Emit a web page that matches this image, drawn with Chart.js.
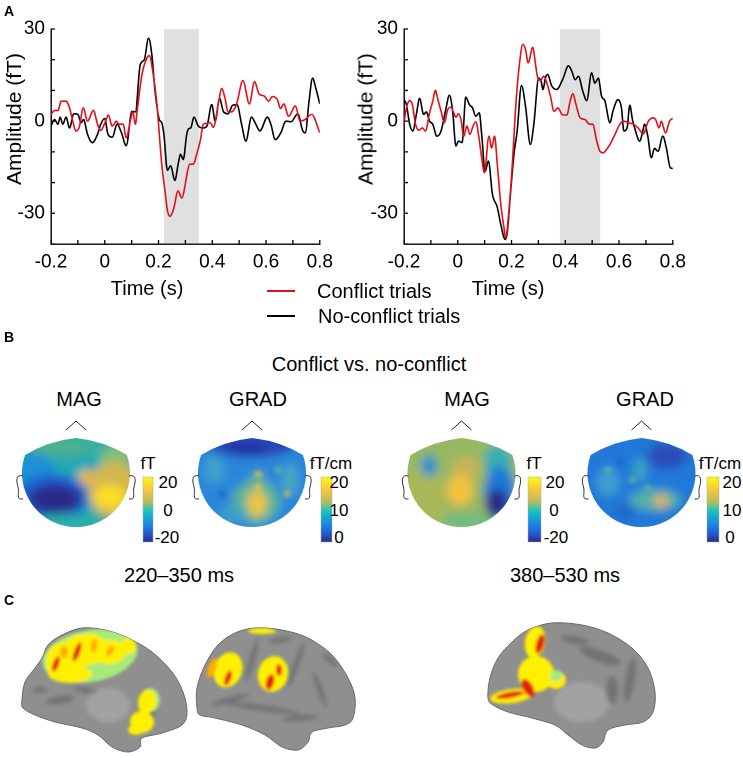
<!DOCTYPE html>
<html><head><meta charset="utf-8">
<script src="https://cdn.jsdelivr.net/npm/chart.js@4.4.1/dist/chart.umd.min.js"></script>
<style>
html,body{margin:0;padding:0;background:#fff;width:743px;height:758px;overflow:hidden;font-family:'Liberation Sans',Arial,Helvetica,sans-serif;}
.t{position:absolute;white-space:nowrap;color:#000;line-height:1;}
canvas{position:absolute;top:0;}
</style></head><body>
<svg id="deco" width="743" height="758" style="position:absolute;left:0;top:0"></svg>
<canvas id="c1" style="left:0px;width:340px;height:280px" width="340" height="280"></canvas>
<canvas id="c2" style="left:353px;width:340px;height:280px" width="340" height="280"></canvas>
<div id="texts"></div>
<script>
// ---------------- DATA ----------------
const timeRange = [-0.2, 0.8];
const ampRange = [-40, 30];
const xTickStep = 0.1;
const yTickStep = 10;
const xTickLabels = [-0.2, 0, 0.2, 0.4, 0.6, 0.8];
const yTickLabels = [30, 0, -30];
const leftWindow = [0.22, 0.35];
const rightWindow = [0.38, 0.53];
const seriesNames = ['Conflict trials', 'No-conflict trials'];

const leftConflictT = [-0.2,-0.186,-0.174,-0.162,-0.144,-0.131,-0.119,-0.107,-0.095,-0.08,-0.064,-0.042,-0.027,-0.015,0.003,0.013,0.028,0.043,0.052,0.068,0.08,0.095,0.104,0.114,0.12,0.138,0.157,0.166,0.179,0.193,0.212,0.224,0.233,0.242,0.255,0.273,0.286,0.317,0.329,0.342,0.355,0.367,0.373,0.392,0.404,0.422,0.435,0.447,0.459,0.471,0.49,0.514,0.538,0.557,0.575,0.593,0.609,0.624,0.642,0.654,0.666,0.684,0.709,0.727,0.745,0.77,0.8];
const leftConflictV = [2.2,3.5,3.5,6.5,6.5,4.3,0,-3.2,-2,4.3,0,3.5,-1,-3,0,2,-1.6,0,-1,-1,-5.4,0,3,-1,3,15,20.6,21.3,16,6.5,-14,-22.7,-29,-31,-29,-22.7,-25,-14,-14,-10.8,-6.5,-1,-0.8,-0.5,-2,5.4,10.6,7.6,3,3,5.4,13.2,5.6,12.8,8.7,8.2,6.5,8,7,4.1,5.6,1.6,4.9,0,0.5,2.2,-3.8];

const leftNoConflictT = [-0.2,-0.187,-0.174,-0.166,-0.156,-0.144,-0.131,-0.115,-0.1,-0.088,-0.079,-0.064,-0.046,-0.027,-0.015,0,0.012,0.028,0.046,0.061,0.08,0.101,0.114,0.132,0.147,0.163,0.175,0.187,0.203,0.212,0.22,0.233,0.245,0.261,0.273,0.282,0.292,0.305,0.312,0.32,0.332,0.348,0.367,0.38,0.398,0.411,0.427,0.442,0.459,0.475,0.492,0.509,0.525,0.546,0.562,0.577,0.605,0.618,0.634,0.655,0.674,0.693,0.718,0.736,0.746,0.76,0.773,0.785,0.8];
const leftNoConflictV = [-1.6,0.5,-1,1.3,-1,1.3,-2.2,2.4,2.2,-0.5,0.5,-4.3,-7,-4.3,-1,0.9,-4.3,-5.2,-1,-3.5,-8,3.2,3,18.4,20,27,21.7,9.8,0.5,-0.5,-4.3,-16,-14.6,-19.3,-14,-10.8,-12.5,-4.3,-2.5,-2.2,1.3,-1.6,-2.2,-1.6,5.4,0,7.4,3,2.4,5.1,5.4,-1,-6.5,1.3,-1,-3.2,1.3,-1,-6,-3.8,0,-0.2,2.4,-3,-3.8,6.5,14,10.8,5.6];

const rightConflictT = [-0.2,-0.191,-0.179,-0.169,-0.157,-0.145,-0.132,-0.12,-0.105,-0.093,-0.083,-0.074,-0.062,-0.05,-0.037,-0.025,-0.015,-0.007,0.003,0.012,0.022,0.034,0.045,0.057,0.067,0.077,0.089,0.099,0.116,0.126,0.137,0.147,0.16,0.172,0.178,0.188,0.203,0.217,0.23,0.242,0.252,0.262,0.279,0.29,0.298,0.308,0.32,0.333,0.345,0.358,0.373,0.39,0.406,0.418,0.428,0.44,0.455,0.474,0.49,0.502,0.517,0.529,0.541,0.554,0.568,0.585,0.603,0.618,0.634,0.653,0.671,0.69,0.709,0.727,0.736,0.749,0.757,0.773,0.788,0.8];
const rightConflictV = [-0.5,4.3,6.7,5.4,-1,-3,-2.2,-3.2,2.7,6.5,10,7,3.2,-0.5,3.8,4.5,2.7,1.3,2.4,0.5,-4.9,-1.6,-4.3,-1.6,-0.2,-4.3,-11.9,-16.8,-4.9,-8.7,-4.9,-14,-27,-34.7,-37.9,-31.4,-14,6.5,19,25,23.3,19,24,18,14,13.3,14.6,11.9,8.1,3.2,4.3,2,2,6.5,8.9,5.4,1.1,0.5,-1,-1,-6.5,-9.8,-10.3,-9.2,-7.3,-4.3,-1,0,-0.5,-1,-2.2,-4.1,0,1.1,0.5,-2.2,0,-3.8,0,0.9];

const rightNoConflictT = [-0.2,-0.191,-0.179,-0.167,-0.154,-0.142,-0.127,-0.117,-0.105,-0.093,-0.078,-0.062,-0.046,-0.031,-0.019,-0.007,0.003,0.016,0.03,0.043,0.055,0.067,0.08,0.089,0.102,0.114,0.129,0.147,0.16,0.176,0.184,0.197,0.209,0.221,0.237,0.252,0.27,0.283,0.301,0.31,0.317,0.326,0.334,0.35,0.368,0.39,0.412,0.424,0.437,0.449,0.465,0.48,0.498,0.51,0.523,0.535,0.547,0.566,0.578,0.596,0.609,0.618,0.63,0.64,0.65,0.658,0.677,0.687,0.695,0.707,0.72,0.732,0.745,0.763,0.776,0.791,0.8];
const rightNoConflictV = [7,5.4,-1,-3.2,2.2,7.4,2.2,3,0,-1,-4.9,-3.2,3.2,8.4,3.2,-8.1,-6.5,-7,7.8,5.4,4.3,1.6,2.7,-4.3,-16.3,-13,-23.8,-28,-33.6,-38.5,-36.3,-22.7,-10.8,-3.2,11.6,4.9,-7.6,-1,14,13,10.3,14,15.2,11.4,10.3,13.5,18,16.3,13.5,14.6,9.8,6.7,15.7,12.4,14,8.1,6.7,-0.5,3.5,7,4.3,-3.2,-2.2,5.2,0.5,-2.2,-6.5,-3.8,-1,-4.9,-11.9,-8.9,-9.8,-4.9,-8.7,-15.2,-15.4];

// ---------------- CHARTS ----------------
const FONT = "'Liberation Sans', Arial, Helvetica, sans-serif";
const RED = '#e3101b';
const pts = (T, V) => T.map((t, i) => ({x: t, y: V[i]}));
const near = (arr, v) => arr.some(a => Math.abs(a - v) < 1e-6);

const decorPlugin = {
  id: 'decor',
  beforeDatasetsDraw(chart, args, opts) {
    const {ctx, chartArea: a, scales: {x}} = chart;
    const x0 = x.getPixelForValue(opts.window[0]), x1 = x.getPixelForValue(opts.window[1]);
    ctx.save(); ctx.fillStyle = '#e0e0e0';
    ctx.fillRect(x0, a.top, x1 - x0, a.bottom - a.top - 1);
    ctx.restore();
  },
  afterDatasetsDraw(chart) {
    const {ctx, chartArea: a, scales: {x, y}} = chart;
    ctx.save(); ctx.strokeStyle = '#000'; ctx.lineWidth = 1.3; ctx.beginPath();
    x.ticks.forEach(t => { const p = x.getPixelForValue(t.value); ctx.moveTo(p, a.bottom); ctx.lineTo(p, a.bottom - 4); });
    y.ticks.forEach(t => { const p = y.getPixelForValue(t.value); ctx.moveTo(a.left, p); ctx.lineTo(a.left + 4, p); });
    ctx.stroke(); ctx.restore();
  }
};

function makeChart(id, conflict, noConflict, win, padRight) {
  return new Chart(document.getElementById(id), {
    type: 'line',
    data: { datasets: [
      { label: seriesNames[0], data: conflict, borderColor: RED, borderWidth: 1.6, pointRadius: 0, cubicInterpolationMode: 'monotone', fill: false },
      { label: seriesNames[1], data: noConflict, borderColor: '#000', borderWidth: 1.6, pointRadius: 0, cubicInterpolationMode: 'monotone', fill: false }
    ]},
    options: {
      responsive: false, animation: false, devicePixelRatio: 2,
      layout: { padding: { top: 29, right: padRight, left: 0, bottom: 0 } },
      plugins: { legend: { display: false }, tooltip: { enabled: false }, title: { display: false }, decor: { window: win } },
      scales: {
        x: { type: 'linear', min: timeRange[0], max: timeRange[1],
          grid: { display: false, drawTicks: false },
          border: { display: true, color: '#000', width: 1.4 },
          afterFit(s) { s.height = 36; },
          ticks: { stepSize: xTickStep, autoSkip: false, maxRotation: 0, padding: 7, color: '#000',
            font: { family: FONT, size: 19 },
            callback: v => near(xTickLabels, v) ? (Math.abs(v) < 1e-6 ? '0' : (Math.round(v * 10) / 10).toFixed(1)) : '' } },
        y: { type: 'linear', min: ampRange[0], max: ampRange[1],
          grid: { display: false, drawTicks: false },
          border: { display: true, color: '#000', width: 1.4 },
          afterFit(s) { s.width = 51; },
          ticks: { stepSize: yTickStep, autoSkip: false, padding: 6, color: '#000',
            font: { family: FONT, size: 19 },
            callback: v => near(yTickLabels, v) ? String(Math.round(v)) : '' } }
      }
    },
    plugins: [decorPlugin]
  });
}
makeChart('c1', pts(leftConflictT, leftConflictV), pts(leftNoConflictT, leftNoConflictV), leftWindow, 17);
makeChart('c2', pts(rightConflictT, rightConflictV), pts(rightNoConflictT, rightNoConflictV), rightWindow, 18);

// ---------------- TEXT ----------------
const texts = document.getElementById('texts');
function txt(s, x, y, size, opt = {}) {
  const d = document.createElement('div');
  d.className = 't'; d.textContent = s;
  d.style.left = x + 'px'; d.style.top = y + 'px'; d.style.fontSize = size + 'px';
  if (opt.bold) d.style.fontWeight = 'bold';
  let tr = opt.align === 'left' ? 'translate(0,-50%)' : 'translate(-50%,-50%)';
  if (opt.rot) tr += ' rotate(-90deg)';
  d.style.transform = tr;
  texts.appendChild(d);
}
txt('A', 4, 11, 14, {bold: true, align: 'left'});
txt('B', 4, 337, 14, {bold: true, align: 'left'});
txt('C', 4, 600, 14, {bold: true, align: 'left'});
txt('Amplitude (fT)', 13, 119, 21, {rot: true});
txt('Amplitude (fT)', 365, 119, 21, {rot: true});
txt('Time (s)', 147, 288, 20);
txt('Time (s)', 508, 288, 20);
txt(seriesNames[0], 317, 291, 20, {align: 'left'});
txt(seriesNames[1], 318, 316, 20, {align: 'left'});
[[291, RED], [316, '#000']].forEach(([y, c]) => {
  const d = document.createElement('div');
  d.style.cssText = `position:absolute;left:267px;top:${y - 1}px;width:28px;height:2px;background:${c}`;
  texts.appendChild(d);
});
txt('Conflict vs. no-conflict', 369, 364, 20);
txt('MAG', 79, 399, 20); txt('GRAD', 258, 399, 20);
txt('MAG', 467, 399, 20); txt('GRAD', 645, 399, 20);
txt('220–350 ms', 179, 575, 20); txt('380–530 ms', 565, 575, 20);
txt('fT', 148, 463, 17); txt('20', 168, 482, 17); txt('0', 168, 510, 17); txt('-20', 167, 537, 17);
txt('fT/cm', 331, 463, 17); txt('20', 339, 482, 17); txt('10', 339, 510, 17); txt('0', 339, 537, 17);
txt('fT', 534, 463, 17); txt('20', 555, 482, 17); txt('0', 554, 510, 17); txt('-20', 556, 537, 17);
txt('fT/cm', 720, 463, 17); txt('20', 732, 482, 17); txt('10', 732, 510, 17); txt('0', 730, 537, 17);

// ---------------- DECORATION (topomaps, brains) ----------------
function smooth(p) {
  const n = p.length; let d = `M${p[0][0]},${p[0][1]}`;
  for (let i = 0; i < n; i++) {
    const p0 = p[(i - 1 + n) % n], p1 = p[i], p2 = p[(i + 1) % n], p3 = p[(i + 2) % n];
    const c1 = [p1[0] + (p2[0] - p0[0]) / 6, p1[1] + (p2[1] - p0[1]) / 6];
    const c2 = [p2[0] - (p3[0] - p1[0]) / 6, p2[1] - (p3[1] - p1[1]) / 6];
    d += ` C${c1[0].toFixed(1)},${c1[1].toFixed(1)} ${c2[0].toFixed(1)},${c2[1].toFixed(1)} ${p2[0]},${p2[1]}`;
  }
  return d + 'Z';
}
function headPath(cx, cy, r) {
  const dy = 18, dx = Math.sqrt(r * r - dy * dy);
  return `M${cx - dx},${cy - dy} Q${cx - 28},${cy - 32} ${cx},${cy - 35} Q${cx + 28},${cy - 32} ${cx + dx},${cy - dy} A${r},${r} 0 1 1 ${cx - dx},${cy - dy} Z`;
}
const heads = [
  { cx: 76, base: '#22a8b6', blobs: [[36,472,18,22,'#1b90d4'],[62,447,34,10,'#4cb08e'],[98,448,16,8,'#3cae9e'],[116,462,16,16,'#86bf76'],[52,498,36,24,'#1a5fd0'],[55,499,26,15,'#2c2a8a'],[66,504,10,8,'#2a2a86'],[114,490,26,28,'#d6b64e'],[110,497,16,12,'#fcdd28'],[86,477,8,7,'#efb640'],[70,524,42,10,'#2aaea8']], spots: [] },
  { cx: 252, base: '#2a86da', blobs: [[252,445,44,12,'#2842b6'],[246,450,20,6,'#23309c'],[214,470,10,14,'#40a2cc'],[290,480,8,16,'#4aaabd'],[256,502,24,22,'#5ab496'],[257,503,10,14,'#ecc53c'],[258,482,7,10,'#6cb88a'],[232,515,14,8,'#3aa0c8']], spots: [[258,474,3,'#e8b848'],[258,487,3,'#f0c040'],[287,494,3,'#d0b858'],[222,494,3,'#2060c0'],[278,470,3,'#70b888']] },
  { cx: 461.5, base: '#96b862', blobs: [[424,500,24,34,'#a8b858'],[429,466,8,11,'#1d8ed4'],[466,468,14,12,'#c8b458'],[460,490,13,16,'#f3c23c'],[498,462,14,18,'#38aeb0'],[500,492,16,26,'#1a78d8'],[497,504,12,15,'#2a2c8a'],[470,522,30,9,'#72bb80']], spots: [] },
  { cx: 641.5, base: '#2178d8', blobs: [[667,456,20,13,'#2a4cba'],[608,482,12,14,'#3c9ed0'],[655,500,26,11,'#52b0a8'],[661,501,7,6,'#ecb240'],[625,512,10,7,'#2262c8'],[640,470,7,12,'#3aa6c4']], spots: [[608,470,3,'#5ab8a0'],[632,480,3,'#6ab890'],[620,462,3,'#2060c0'],[648,488,3,'#60b8a0']] }
];
const cbars = [[143,153],[321,332],[528,541],[707,719]];
const YEL = '#fff000', ORG = '#ffab00', RD = '#e3220f', GRN = '#a6ea7a';
const brains = [
  { pts: [[22,700],[25,682],[35,668],[42,658],[48,645],[62,635],[82,628],[105,630],[128,638],[152,652],[172,672],[183,692],[187,712],[182,725],[162,733],[142,738],[140,747],[128,752],[112,747],[98,735],[82,728],[55,722],[35,715],[23,708]],
    light: [[108,705,22,17]], dark: [[60,700,14,4,-10],[85,690,12,3,10],[150,705,6,16,0],[40,690,8,3,0]],
    blobs: [[90,656,48,26,GRN,-10],[64,662,18,20,YEL,0],[84,650,24,16,YEL,-10],[108,652,18,12,YEL,0],[70,674,22,9,YEL,0],[128,646,8,8,YEL,0],
            [77,652,3,10,RD,20],[56,664,3,8,RD,20],[110,651,3,6,ORG,30],[94,646,3,7,ORG,10],[64,652,4,6,ORG,0],
            [150,700,10,12,GRN,0],[147,702,9,12,YEL,10],[142,722,12,11,YEL,0],[136,730,8,5,YEL,0]] },
  { pts: [[197,708],[197,688],[205,665],[218,645],[235,633],[255,628],[282,630],[308,638],[332,655],[348,678],[355,698],[353,718],[345,725],[328,728],[312,732],[308,742],[298,750],[282,747],[265,735],[242,725],[215,718],[200,715]],
    light: [], dark: [[262,708,38,3,8],[300,718,18,3,-5],[252,660,3,22,15],[296,665,3,24,20],[320,690,3,18,-20],[230,700,20,3,-15],[330,660,10,3,40],[280,640,12,3,-10]],
    blobs: [[228,670,14,18,YEL,20],[228,678,3,8,RD,20],[212,668,4,10,ORG,20],[273,674,15,18,YEL,15],[270,682,4,8,RD,15],[279,670,3,6,RD,0],[262,631,14,3,YEL,0]] },
  { pts: [[488,698],[490,678],[498,658],[512,642],[528,630],[552,623],[582,625],[608,633],[632,648],[648,668],[655,692],[653,712],[643,722],[625,725],[608,730],[603,742],[595,748],[582,745],[568,735],[555,725],[532,718],[508,712],[493,705]],
    light: [[582,702,28,20]], dark: [[600,656,22,6,20],[630,680,5,22,10],[575,640,14,4,10],[612,690,6,14,0]],
    blobs: [[535,642,10,16,YEL,10],[540,644,4,10,RD,15],[536,674,18,18,YEL,-20],[556,680,10,9,YEL,0],[512,696,22,7,YEL,-8],[528,688,5,10,RD,-30],[510,695,14,3,RD,-10],[556,676,6,6,GRN,0]] }
];
let s = '<defs><linearGradient id="par" x1="0" y1="0" x2="0" y2="1">' +
  [[0,'#f9fb0e'],[0.2,'#f8c63a'],[0.38,'#b6bc5c'],[0.5,'#2ec4b0'],[0.58,'#14b4c8'],[0.7,'#1a8ee0'],[0.85,'#2062d8'],[1,'#2b2a86']]
    .map(([o,c]) => `<stop offset="${o}" stop-color="${c}"/>`).join('') + '</linearGradient>' +
  '<filter id="bl" x="-50%" y="-50%" width="200%" height="200%"><feGaussianBlur stdDeviation="5"/></filter>' +
  '<filter id="bl2" x="-50%" y="-50%" width="200%" height="200%"><feGaussianBlur stdDeviation="2.2"/></filter>' +
  '<filter id="bl3" x="-50%" y="-50%" width="200%" height="200%"><feGaussianBlur stdDeviation="1.8"/></filter>';
heads.forEach((h, i) => { s += `<clipPath id="hd${i}"><path d="${headPath(h.cx, 473, 54)}"/></clipPath>`; });
brains.forEach((b, i) => { s += `<clipPath id="br${i}"><path d="${smooth(b.pts)}"/></clipPath>`; });
s += '</defs>';
const ell = (e, c) => `<ellipse cx="${e[0]}" cy="${e[1]}" rx="${e[2]}" ry="${e[3]}" fill="${c || e[4]}"` +
  (e[5] ? ` transform="rotate(${e[5]} ${e[0]} ${e[1]})"` : '') + '/>';
const ellR = (e, c) => `<ellipse cx="${e[0]}" cy="${e[1]}" rx="${e[2]}" ry="${e[3]}" fill="${c}"` +
  (e[4] ? ` transform="rotate(${e[4]} ${e[0]} ${e[1]})"` : '') + '/>';
heads.forEach((h, i) => {
  s += `<g clip-path="url(#hd${i})"><g filter="url(#bl)"><rect x="${h.cx - 70}" y="410" width="140" height="130" fill="${h.base}"/>` +
    h.blobs.map(e => ell(e)).join('') + '</g><g filter="url(#bl2)">' +
    h.spots.map(p => `<circle cx="${p[0]}" cy="${p[1]}" r="${p[2]}" fill="${p[3]}"/>`).join('') + '</g></g>';
  s += `<path d="M${h.cx - 10},430 L${h.cx},421 L${h.cx + 10},430" fill="none" stroke="#222" stroke-width="1"/>`;
  s += `<path d="M${h.cx - 53},476 C${h.cx - 60},474 ${h.cx - 60},480 ${h.cx - 58},487 C${h.cx - 56},493 ${h.cx - 61},500 ${h.cx - 53},499" fill="none" stroke="#333" stroke-width="1"/>`;
  s += `<path d="M${h.cx + 53},476 C${h.cx + 60},474 ${h.cx + 60},480 ${h.cx + 58},487 C${h.cx + 56},493 ${h.cx + 61},500 ${h.cx + 53},499" fill="none" stroke="#333" stroke-width="1"/>`;
});
cbars.forEach(([x0, x1]) => { s += `<rect x="${x0}" y="477" width="${x1 - x0}" height="65" fill="url(#par)" stroke="#aaa" stroke-width="0.5"/>`; });
brains.forEach((b, i) => {
  s += `<path d="${smooth(b.pts)}" fill="#8f8f8f" stroke="#6a6a6a" stroke-width="1"/>`;
  s += `<g clip-path="url(#br${i})"><g filter="url(#bl2)">` + b.light.map(e => ellR(e, '#a2a2a2')).join('') +
    b.dark.map(e => ellR(e, '#737373')).join('') + '</g>' +
    '<g filter="url(#bl3)">' + b.blobs.map(e => ell(e)).join('') + '</g></g>';
});
document.getElementById('deco').innerHTML = s;
</script>
</body></html>
